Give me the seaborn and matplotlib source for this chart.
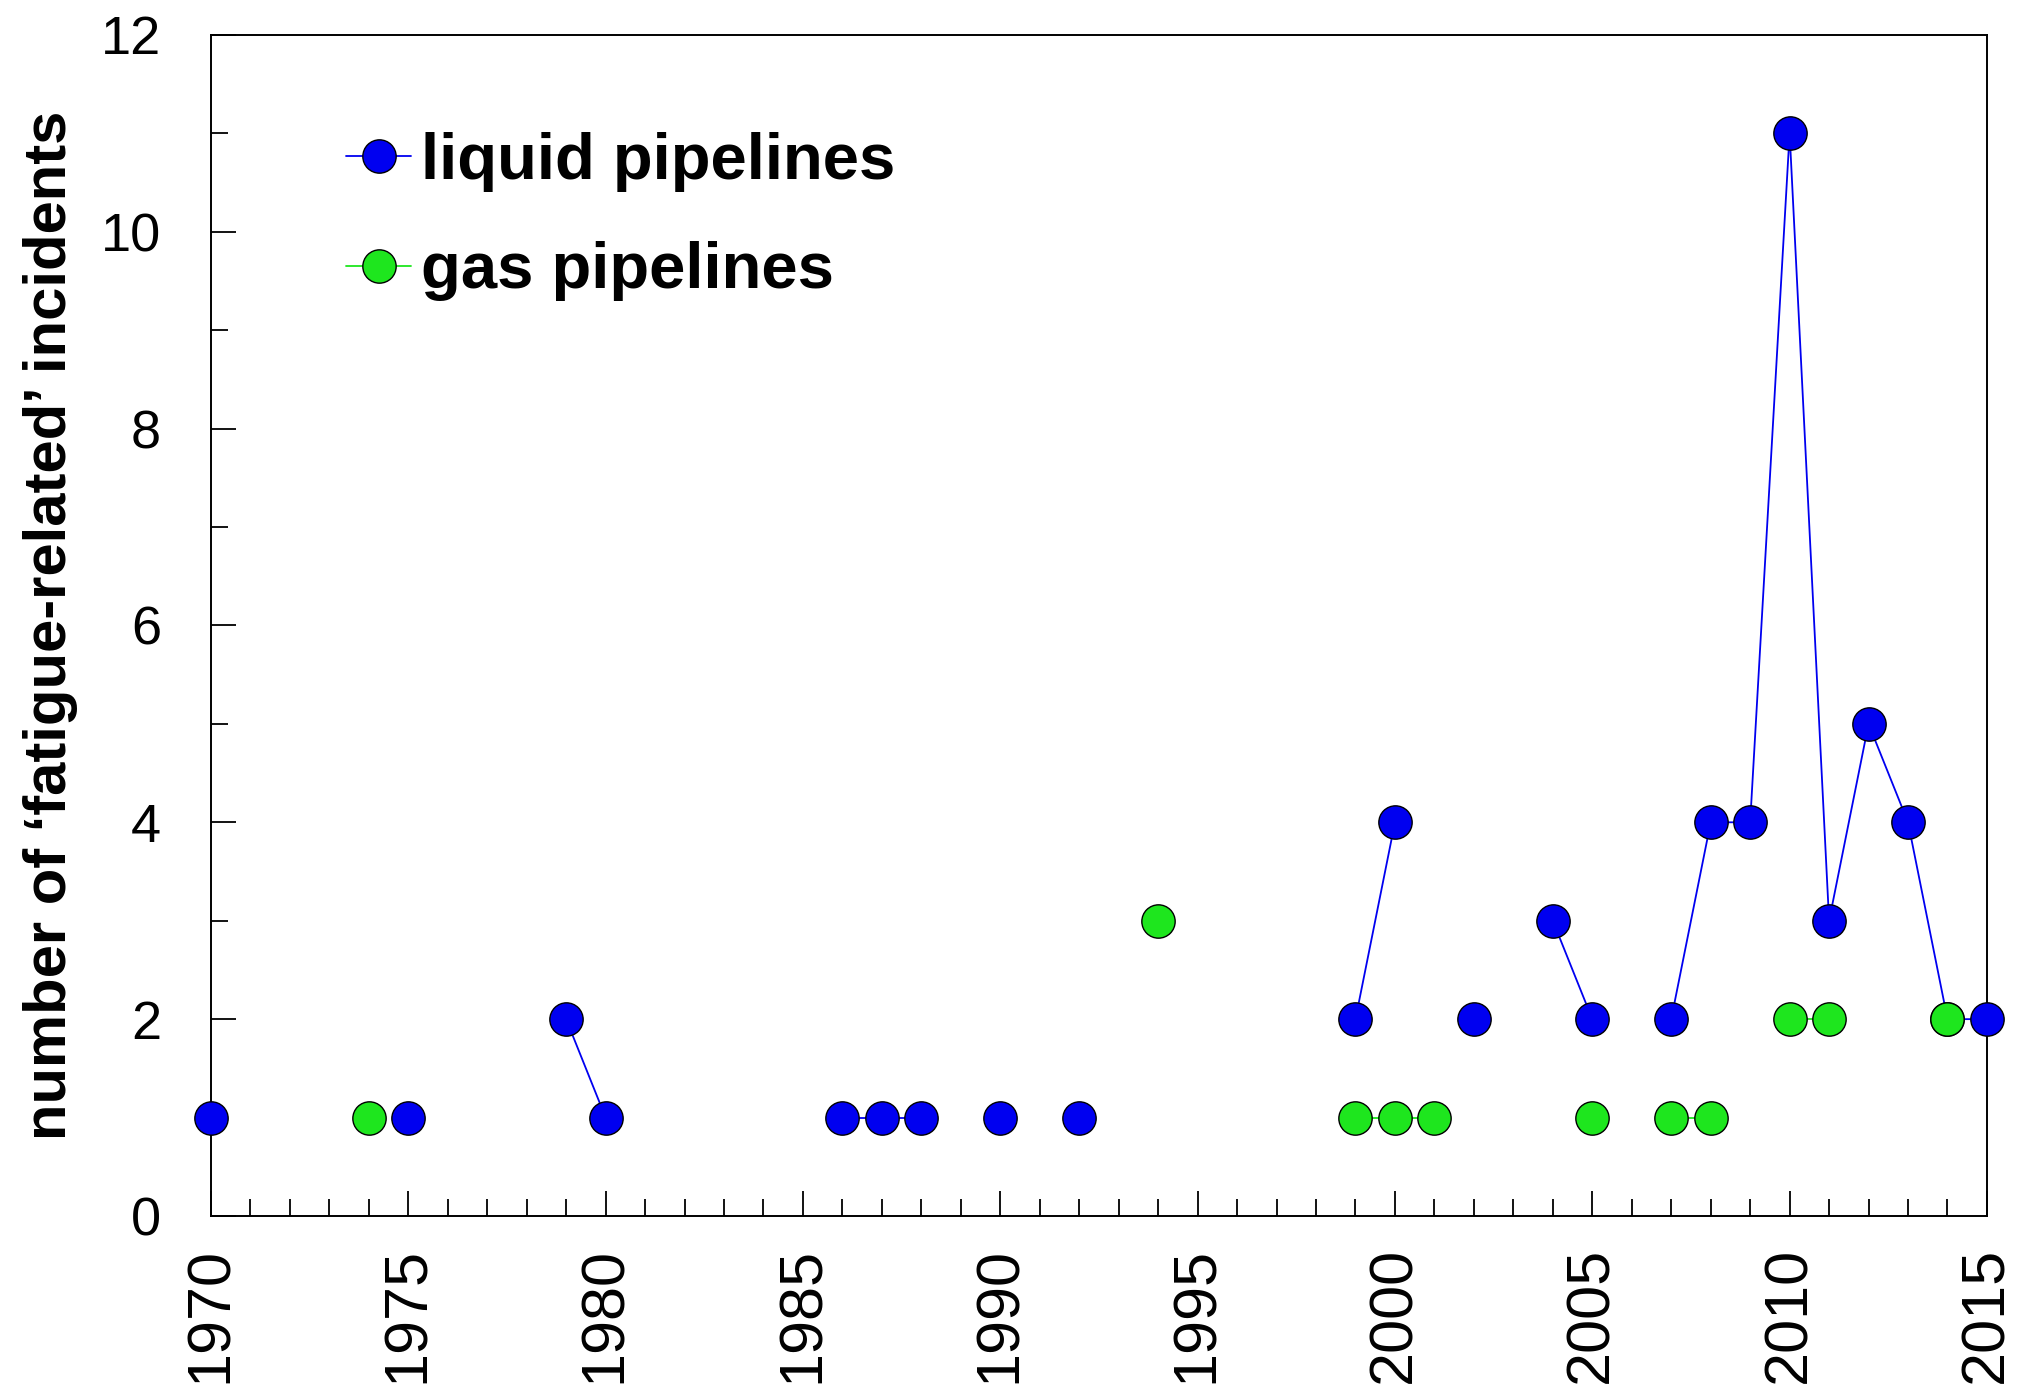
import numpy as np
import pandas as pd
import matplotlib
matplotlib.use("Agg")
import matplotlib.pyplot as plt
from matplotlib.lines import Line2D
from matplotlib.ticker import MultipleLocator
import seaborn as sns

# incidents per year
liquid_years = [1970, 1975, 1979, 1980, 1986, 1987, 1988, 1990, 1992,
                1999, 2000, 2002, 2004, 2005, 2007, 2008, 2009, 2010,
                2011, 2012, 2013, 2014, 2015]
liquid_counts = [1, 1, 2, 1, 1, 1, 1, 1, 1,
                 2, 4, 2, 3, 2, 2, 4, 4, 11,
                 3, 5, 4, 2, 2]
gas_years = [1974, 1994, 1999, 2000, 2001, 2005, 2007, 2008, 2010, 2011, 2014]
gas_counts = [1, 3, 1, 1, 1, 1, 1, 1, 2, 2, 2]

series_names = ["liquid pipelines", "gas pipelines"]
colors = {"liquid pipelines": "#0000f0", "gas pipelines": "#1ee61e"}


def to_frame(years, counts, name):
    df = pd.DataFrame({"year": years, "count": counts})
    # lines only join consecutive years
    df["seg"] = (df["year"].diff() != 1).cumsum()
    df["series"] = name
    return df


sns.set_style("ticks")
plt.rcParams["font.family"] = ["Liberation Sans", "DejaVu Sans"]
plt.rcParams["text.color"] = "black"
plt.rcParams["axes.labelcolor"] = "black"
plt.rcParams["xtick.color"] = "black"
plt.rcParams["ytick.color"] = "black"

fig = plt.figure(figsize=(20.4, 13.87), dpi=100)
ax = fig.add_axes([0.1034, 0.1233, 0.8706, 0.8515])

frames = [to_frame(liquid_years, liquid_counts, series_names[0]),
          to_frame(gas_years, gas_counts, series_names[1])]
for z, df in enumerate(frames):
    name = df["series"].iloc[0]
    sns.lineplot(data=df, x="year", y="count", units="seg", estimator=None,
                 color=colors[name], linewidth=1.3, marker="o", markersize=24,
                 markeredgecolor="black", markeredgewidth=1.0,
                 ax=ax, legend=False, clip_on=False, zorder=3 + z)

ax.set_xlim(1970, 2015)
ax.set_ylim(0, 12)
ax.xaxis.set_major_locator(MultipleLocator(5))
ax.xaxis.set_minor_locator(MultipleLocator(1))
ax.yaxis.set_major_locator(MultipleLocator(2))
ax.yaxis.set_minor_locator(MultipleLocator(1))
ax.tick_params(which="both", direction="in", width=1.3, color="black")
ax.tick_params(which="major", length=18)
ax.tick_params(which="minor", length=12)
ax.tick_params(axis="y", which="major", labelsize=39, pad=36)
ax.tick_params(axis="x", which="major", labelsize=44, pad=22, labelrotation=90)
for s in ax.spines.values():
    s.set_linewidth(1.4)
    s.set_color("black")
    s.set_visible(True)

ax.set_xlabel("")
ax.set_ylabel("number of \u2018fatigue-related\u2019 incidents", fontsize=43,
              fontweight="bold", labelpad=16)

handles = [Line2D([], [], color=colors[n], linewidth=1.3, marker="o",
                  markersize=24, markeredgecolor="black", markeredgewidth=1.0)
           for n in series_names]
leg = ax.legend(handles, series_names, loc="upper left",
                bbox_to_anchor=(0.076, 0.918), frameon=False,
                borderpad=0, borderaxespad=0,
                handlelength=1.0, handletextpad=0.15, labelspacing=0.76,
                prop={"size": 47, "weight": "bold"})

fig.savefig("out.png", dpi=100)
